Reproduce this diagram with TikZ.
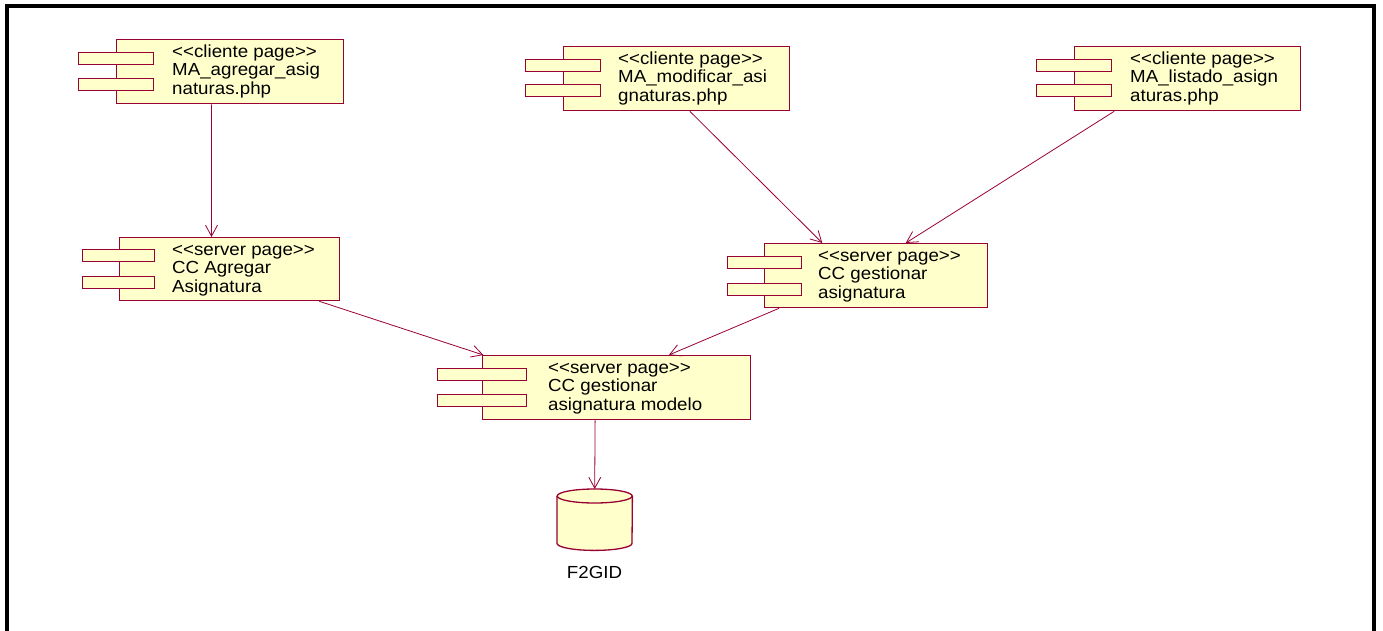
\documentclass[tikz,border=0pt]{standalone}
\usepackage{fontspec}
\setmainfont{Liberation Sans}[FakeStretch=1.07, Ligatures=TeXReset]
\usetikzlibrary{arrows.meta,calc}
\definecolor{rosefill}{RGB}{255,255,204}
\definecolor{roseline}{RGB}{153,0,51}
\tikzset{
  box/.style={draw=roseline, fill=rosefill, line width=1.3pt, inner sep=0pt, anchor=north west},
  bar/.style={draw=roseline, fill=rosefill, line width=1.3pt, inner sep=0pt, anchor=north west},
  lbl/.style={anchor=base west, inner sep=0pt, font=\fontsize{17.5}{19}\selectfont},
  dep/.style={draw=roseline, line width=0.8pt, -{Straight Barb[length=11pt,width=12pt]}},
  frame/.style={draw=black, line width=4pt},
}
\begin{document}
\begin{tikzpicture}[x=1pt,y=-1pt]
\useasboundingbox (0,0) rectangle (1383,631);
\fill[white] (0,0) rectangle (1383,631);
\draw[frame] (7,631) -- (7,6) -- (1374,6) -- (1374,631);

% component 1
\node[box, minimum width=227pt, minimum height=64pt] (c1) at (116,39) {};
\node[bar, minimum width=75pt, minimum height=12pt] (c1a) at (78,52) {};
\node[bar, minimum width=75pt, minimum height=12pt] (c1b) at (78,78) {};
\node[lbl] (t1a) at (172,57.5) {<<cliente page>>};
\node[lbl] (t1b) at (172,76) {MA\_agregar\_asig};
\node[lbl] (t1c) at (172,94.5) {naturas.php};

% component 2
\node[box, minimum width=226pt, minimum height=64pt] (c2) at (563,46) {};
\node[bar, minimum width=75pt, minimum height=12pt] (c2a) at (525,59) {};
\node[bar, minimum width=75pt, minimum height=12pt] (c2b) at (525,84) {};
\node[lbl] (t2a) at (618,64.5) {<<cliente page>>};
\node[lbl] (t2b) at (618,83) {MA\_modificar\_asi};
\node[lbl] (t2c) at (618,101.5) {gnaturas.php};

% component 3
\node[box, minimum width=226pt, minimum height=64pt] (c3) at (1074,46) {};
\node[bar, minimum width=75pt, minimum height=12pt] (c3a) at (1036,59) {};
\node[bar, minimum width=75pt, minimum height=12pt] (c3b) at (1036,84) {};
\node[lbl] (t3a) at (1130,64.5) {<<cliente page>>};
\node[lbl] (t3b) at (1130,83) {MA\_listado\_asign};
\node[lbl] (t3c) at (1130,101.5) {aturas.php};

% component 4
\node[box, minimum width=220pt, minimum height=63pt] (c4) at (119,237) {};
\node[bar, minimum width=72pt, minimum height=12pt] (c4a) at (82,249) {};
\node[bar, minimum width=72pt, minimum height=12pt] (c4b) at (82,276) {};
\node[lbl] (t4a) at (172,255) {<<server page>>};
\node[lbl] (t4b) at (172,273.5) {CC Agregar};
\node[lbl] (t4c) at (172,292) {Asignatura};

% component 5
\node[box, minimum width=223pt, minimum height=64pt] (c5) at (764,243) {};
\node[bar, minimum width=74pt, minimum height=12pt] (c5a) at (727,256) {};
\node[bar, minimum width=74pt, minimum height=12pt] (c5b) at (727,283) {};
\node[lbl] (t5a) at (818,261) {<<server page>>};
\node[lbl] (t5b) at (818,279.5) {CC gestionar};
\node[lbl] (t5c) at (818,298) {asignatura};

% component 6
\node[box, minimum width=268pt, minimum height=64pt] (c6) at (482,355) {};
\node[bar, minimum width=89pt, minimum height=12pt] (c6a) at (437,368) {};
\node[bar, minimum width=89pt, minimum height=12pt] (c6b) at (437,394) {};
\node[lbl] (t6a) at (548,373) {<<server page>>};
\node[lbl] (t6b) at (548,391.5) {CC gestionar};
\node[lbl] (t6c) at (548,410) {asignatura modelo};

% database
\node[inner sep=0pt, minimum width=75pt, minimum height=61pt, anchor=north west] (db) at (557,489) {};
\fill[rosefill] ($(db.north west)+(0,7)$) -- ($(db.south west)+(0,-7)$)
  arc[start angle=180, end angle=360, x radius=37.5pt, y radius=7pt]
  -- ($(db.north east)+(0,7)$) -- cycle;
\draw[roseline, line width=1.3pt] ($(db.north west)+(0,7)$) -- ($(db.south west)+(0,-7)$)
  arc[start angle=180, end angle=360, x radius=37.5pt, y radius=7pt]
  -- ($(db.north east)+(0,7)$);
\draw[roseline, fill=rosefill, line width=1.3pt] ($(db.north)+(0,7)$) ellipse[x radius=37.5pt, y radius=7pt];
\node[anchor=base, inner sep=0pt, font=\fontsize{17.5}{19}\selectfont] (dbl) at (594.5,578.5) {F2GID};

% dependencies
\draw[dep] ($(c1.south west)!0.418!(c1.south east)$) -- ($(c4.north west)!0.418!(c4.north east)$);
\draw[dep] ($(c2.south west)!0.558!(c2.south east)$) -- ($(c5.north west)!0.26!(c5.north east)$);
\draw[dep] ($(c3.south west)!0.177!(c3.south east)$) -- ($(c5.north west)!0.632!(c5.north east)$);
\draw[dep] ($(c4.south west)!0.905!(c4.south east)$) -- ($(c6.north west)!0.005!(c6.north east)$);
\draw[dep] ($(c5.south west)!0.067!(c5.south east)$) -- ($(c6.north west)!0.694!(c6.north east)$);
\draw[dep] ($(c6.south west)!0.42!(c6.south east)$) -- (db.north);
\end{tikzpicture}
\end{document}
